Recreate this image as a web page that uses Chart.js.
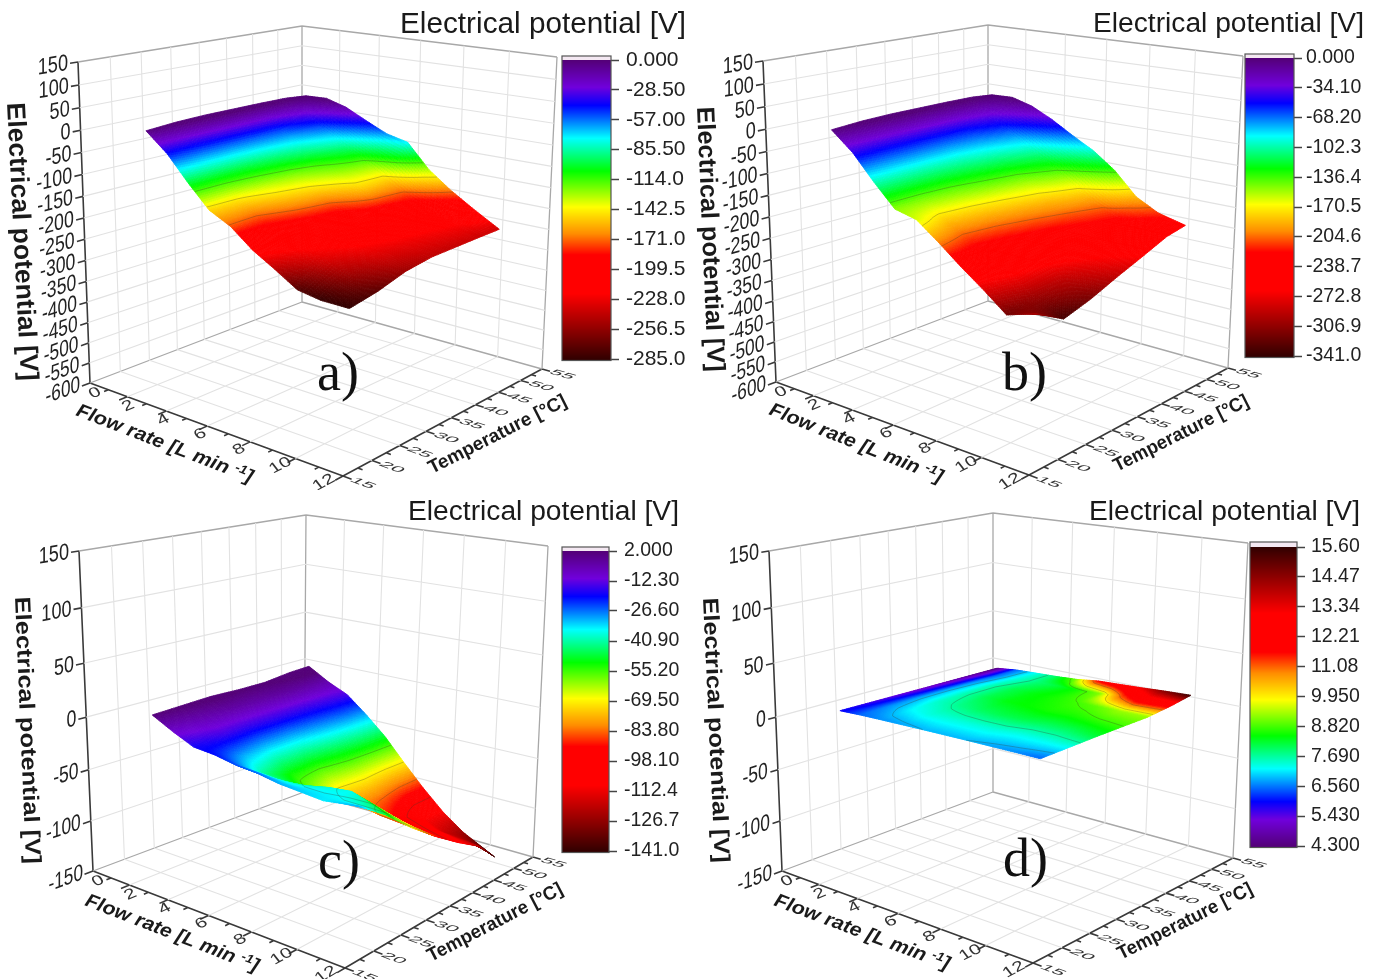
<!DOCTYPE html>
<html>
<head>
<meta charset="utf-8">
<title>Electrical potential surfaces</title>
<script src="https://cdn.jsdelivr.net/npm/chart.js@4"></script>
<style>
  html, body { margin: 0; background: #fff; }
  #page { position: relative; width: 1378px; height: 979px; overflow: hidden; }
  canvas { position: absolute; filter: blur(0.5px); }
</style>
</head>
<body>
<div id="page"></div>
<script>
// Surface grid: flow rates and temperatures
const flowRates = [1.75, 2.8, 3.8, 4.8, 5.8, 6.8, 7.8, 8.8, 9.8, 11];
const flowRatesC = [1.75, 2.8, 3.8, 4.8, 5.8, 6.8, 7.8, 8.8, 9.8, 11.3];
const temperatures = [20, 25, 30, 35, 40, 45, 49];

// Potential [V], one row per temperature, one column per flow rate
const potentialA = [
  [-1, -43, -98, -148, -173, -213, -243, -275, -284, -285],
  [4, -50, -100, -146, -176, -205, -222, -234, -250, -272],
  [6, -52, -98, -134, -160, -190, -208, -220, -234, -252],
  [6, -52, -90, -125, -150, -182, -200, -214, -228, -242],
  [6, -50, -80, -110, -130, -150, -190, -208, -224, -240],
  [5, -30, -60, -90, -120, -150, -180, -205, -220, -238],
  [0, 2, -12, -37, -60, -72, -128, -167, -200, -237]
];
const potentialB = [
  [-1, -43, -98, -148, -160, -198, -239, -277, -318, -298],
  [4, -50, -100, -148, -182, -212, -240, -262, -300, -335],
  [6, -52, -100, -142, -176, -206, -232, -256, -290, -315],
  [6, -55, -96, -130, -166, -196, -222, -246, -268, -289],
  [6, -52, -85, -120, -155, -185, -210, -232, -252, -265],
  [5, -36, -70, -100, -130, -165, -198, -220, -234, -240],
  [0, 2, -12, -37, -67, -95, -133, -186, -214, -230]
];
const potentialC = [
  [2, -9, -18, -20, -24, -26, -30, -32, -34, -30],
  [3, -6, -14, -30, -42, -44, -42, -38, -36, -48],
  [4, -4, -16, -36, -52, -60, -62, -60, -60, -70],
  [3, -4, -16, -36, -54, -70, -80, -84, -86, -89],
  [3, -3, -16, -32, -50, -68, -84, -96, -100, -106],
  [6, -4, -15, -30, -48, -70, -90, -110, -118, -121],
  [7, -5, -14, -30, -48, -70, -91, -110, -125, -141]
];
const potentialD = [
  [5.9, 6.5, 6.7, 6.8, 6.9, 6.9, 6.9, 6.8, 6.7, 6.5],
  [5.6, 6.7, 7.2, 7.4, 7.4, 7.4, 7.4, 7.3, 7.3, 7.3],
  [5.3, 6.8, 7.5, 7.8, 8.0, 8.1, 8.1, 8.0, 8.0, 8.2],
  [5.0, 6.8, 7.6, 8.1, 8.4, 8.5, 8.6, 8.6, 8.7, 8.8],
  [4.8, 6.7, 7.6, 8.1, 8.4, 8.6, 8.8, 9.0, 9.3, 9.3],
  [4.5, 6.5, 7.4, 7.9, 8.2, 8.6, 9.2, 11.3, 12.6, 12.2],
  [4.3, 6.5, 7.3, 8.0, 9.2, 11.8, 12.6, 13.4, 14.6, 15.6]
];

// Colour bar ticks, top to bottom
const barTicksA = ['0.000', '-28.50', '-57.00', '-85.50', '-114.0', '-142.5', '-171.0', '-199.5', '-228.0', '-256.5', '-285.0'];
const barTicksB = ['0.000', '-34.10', '-68.20', '-102.3', '-136.4', '-170.5', '-204.6', '-238.7', '-272.8', '-306.9', '-341.0'];
const barTicksC = ['2.000', '-12.30', '-26.60', '-40.90', '-55.20', '-69.50', '-83.80', '-98.10', '-112.4', '-126.7', '-141.0'];
const barTicksD = ['15.60', '14.47', '13.34', '12.21', '11.08', '9.950', '8.820', '7.690', '6.560', '5.430', '4.300'];

// Contour levels seen on each surface
const contoursA = [-114, -142.5, -171];
const contoursB = [-136.4, -170.5, -204.6];
const contoursC = [-55.2, -69.5, -83.8, -98.1];
const contoursD = [6.9, 7.69, 8.82, 9.95, 11.08];

// Axis ticks
const flowTicks = [0, 2, 4, 6, 8, 10, 12];
const tempTicks = [15, 20, 25, 30, 35, 40, 45, 50, 55];
const voltTicksWide = [150, 100, 50, 0, -50, -100, -150, -200, -250, -300, -350, -400, -450, -500, -550, -600];
const voltTicksNarrow = [150, 100, 50, 0, -50, -100, -150];

// Rainbow used by the colour bars (0 = purple end, 1 = dark end)
const rainbowStops = [
  [0, [84, 0, 120]], [0.09, [112, 0, 220]], [0.15, [0, 0, 255]], [0.26, [0, 255, 255]],
  [0.37, [0, 255, 0]], [0.49, [255, 255, 0]], [0.58, [255, 140, 0]], [0.65, [255, 0, 0]],
  [0.78, [255, 0, 0]], [1, [50, 0, 0]]
];

function rainbow(s) {
  s = Math.min(1, Math.max(0, s));
  for (let i = 1; i < rainbowStops.length; i++) {
    if (s <= rainbowStops[i][0]) {
      const [s0, c0] = rainbowStops[i - 1];
      const [s1, c1] = rainbowStops[i];
      const k = (s - s0) / (s1 - s0);
      return `rgb(${c0.map((c, j) => Math.round(c + (c1[j] - c) * k)).join(',')})`;
    }
  }
  return 'rgb(50,0,0)';
}

// Panel setup, box corners in page pixels (floor and top of each corner)
const panels = [
  {
    name: 'a)', left: 0, top: 0, width: 690, height: 490, flows: flowRates, values: potentialA, barTicks: barTicksA, contours: contoursA,
    volts: voltTicksWide, purpleLow: false,
    floor: [[90, 383], [343, 476], [542, 369], [302, 302]], roof: [[78, 62], [346, 106], [557, 57], [302, 26]],
    bar: { left: 562, right: 611, top: 60, bottom: 359, cap: 56 }, barFont: 21, barPad: 7,
    title: [400, 686, 33, 29], voltTitle: [7, 103, 21, 381, 26], letter: [317, 390],
    flowTitle: [75, 415, 250, 483], tempTitle: [432, 474, 568, 405]
  },
  {
    name: 'b)', left: 690, top: 0, width: 688, height: 490, flows: flowRates, values: potentialB, barTicks: barTicksB, contours: contoursB,
    volts: voltTicksWide, purpleLow: false,
    floor: [[776, 382], [1029, 475], [1228, 368], [988, 301]], roof: [[763, 61], [1032, 105], [1243, 56], [988, 25]],
    bar: { left: 1245, right: 1294, top: 58, bottom: 356, cap: 54 }, barFont: 19.5, barPad: 4,
    title: [1093, 1364, 32, 27], voltTitle: [697, 107, 708, 372, 25], letter: [1002, 390],
    flowTitle: [768, 414, 940, 483], tempTitle: [1117, 472, 1250, 405]
  },
  {
    name: 'c)', left: 0, top: 490, width: 690, height: 489, flows: flowRatesC, values: potentialC, barTicks: barTicksC, contours: contoursC,
    volts: voltTicksNarrow, purpleLow: false,
    floor: [[93, 871], [345, 968], [533, 857], [304, 792]], roof: [[79, 551], [349, 590], [548, 546], [306, 515]],
    bar: { left: 562, right: 609, top: 551, bottom: 851, cap: 547 }, barFont: 19.5, barPad: 7,
    title: [408, 679, 520, 27], voltTitle: [15, 597, 26, 864, 22], letter: [318, 878],
    flowTitle: [84, 905, 256, 972], tempTitle: [431, 962, 564, 893]
  },
  {
    name: 'd)', left: 690, top: 490, width: 688, height: 489, flows: flowRates, values: potentialD, barTicks: barTicksD, contours: contoursD,
    volts: voltTicksNarrow, purpleLow: true,
    floor: [[782, 871], [1033, 963], [1233, 858], [993, 792]], roof: [[769, 551], [1037, 590], [1248, 543], [993, 513]],
    bar: { left: 1250, right: 1297, top: 547, bottom: 846, cap: 542 }, barFont: 19.5, barPad: 6,
    title: [1089, 1360, 520, 27], voltTitle: [703, 598, 715, 863, 22], letter: [1003, 876],
    flowTitle: [773, 905, 947, 970], tempTitle: [1121, 960, 1254, 893]
  }
];

// Homography from the unit square onto the four given corners
function unitSquareMap(q) {
  const [[x0, y0], [x1, y1], [x2, y2], [x3, y3]] = q;
  const dx1 = x1 - x2, dx2 = x3 - x2, sx = x0 - x1 + x2 - x3;
  const dy1 = y1 - y2, dy2 = y3 - y2, sy = y0 - y1 + y2 - y3;
  const den = dx1 * dy2 - dx2 * dy1;
  const g = (sx * dy2 - dx2 * sy) / den;
  const h = (dx1 * sy - sx * dy1) / den;
  const a = x1 - x0 + g * x1, b = x3 - x0 + h * x3;
  const d = y1 - y0 + g * y1, e = y3 - y0 + h * y3;
  return (u, v) => {
    const w = g * u + h * v + 1;
    return [(a * u + b * v + x0) / w, (d * u + e * v + y0) / w];
  };
}

// (flow, temperature, potential) to a point of the picture plane
function makeProjection(p) {
  const floorMap = unitSquareMap(p.floor);
  const roofMap = unitSquareMap(p.roof);
  const vMin = p.volts[p.volts.length - 1], vMax = p.volts[0];
  return (flow, temp, volt) => {
    const u = flow / 12, v = (temp - 15) / 40, w0 = (volt - vMin) / (vMax - vMin);
    const w = w0 / (1 + 0.08 * (1 - w0)); // slight perspective along the height
    const lo = floorMap(u, v), hi = roofMap(u, v);
    return { x: lo[0] + (hi[0] - lo[0]) * w, y: lo[1] + (hi[1] - lo[1]) * w };
  };
}

const GAP = { x: null, y: null };

function lineSet(points, color, width) {
  return { data: points, showLine: true, borderColor: color, borderWidth: width, pointRadius: 0, spanGaps: false, clip: false };
}

// Draw text along the segment (x1,y1)-(x2,y2), squeezed to its exact length.
// parts: [text, relative size, raise] so superscripts can share one baseline.
function textAlong(ctx, parts, x1, y1, x2, y2, size, style) {
  ctx.save();
  const fontOf = rel => `${style} ${size * rel}px "Liberation Sans"`;
  let natural = 0;
  parts.forEach(([text, rel]) => { ctx.font = fontOf(rel); natural += ctx.measureText(text).width; });
  ctx.translate(x1, y1);
  ctx.rotate(Math.atan2(y2 - y1, x2 - x1));
  ctx.scale(Math.hypot(x2 - x1, y2 - y1) / natural, 1);
  ctx.textAlign = 'left';
  ctx.textBaseline = 'alphabetic';
  ctx.fillStyle = '#1a1a1a';
  let at = 0;
  parts.forEach(([text, rel, raise]) => {
    ctx.font = fontOf(rel);
    ctx.fillText(text, at, -raise);
    at += ctx.measureText(text).width;
  });
  ctx.restore();
}

// Text lying on the floor: baseline along one direction, letters shortened along the other
function floorText(ctx, text, at, along, down, fontSize) {
  ctx.save();
  ctx.font = fontSize + 'px "Liberation Sans"';
  ctx.transform(along.x, along.y, down.x, down.y, at.x, at.y);
  ctx.textAlign = 'center';
  ctx.textBaseline = 'middle';
  ctx.fillStyle = '#333';
  ctx.fillText(text, 0, 0);
  ctx.restore();
}

function unit(a, b, k) {
  const l = Math.hypot(b.x - a.x, b.y - a.y);
  return { x: (b.x - a.x) / l * k, y: (b.y - a.y) / l * k };
}

const surfacePlugin = {
  id: 'surface',
  afterDatasetsDraw(chart, args, opts) {
    const { panel, surfaceIndex } = opts;
    const ctx = chart.ctx;
    const cols = panel.flows.length, rows = temperatures.length;
    const pts = chart.getDatasetMeta(surfaceIndex).data;
    const bar = panel.barTicks.map(Number);
    const top = bar[0], bottom = bar[bar.length - 1];
    const sOf = v => panel.purpleLow ? (v - bottom) / (top - bottom) : (top - v) / (top - bottom);
    const N = 14;

    // fine sampling of the cell for smooth shading
    const sample = (r, c, i, j) => {
      const c1 = Math.min(c + 1, cols - 1), r1 = Math.min(r + 1, rows - 1);
      const a = i / N, b = j / N;
      const mix = f => (f(r, c) * (1 - a) + f(r, c1) * a) * (1 - b) + (f(r1, c) * (1 - a) + f(r1, c1) * a) * b;
      return {
        x: mix((m, n) => pts[m * cols + n].x),
        y: mix((m, n) => pts[m * cols + n].y),
        v: mix((m, n) => panel.values[m][n])
      };
    };

    ctx.save();
    ctx.lineWidth = 0.8;
    // paint from the far temperature to the near one
    for (let r = rows - 2; r >= 0; r--) {
      for (let c = 0; c < cols - 1; c++) {
        for (let j = N - 1; j >= 0; j--) {
          for (let i = 0; i < N; i++) {
            const a = sample(r, c, i, j), b = sample(r, c, i + 1, j);
            const d = sample(r, c, i + 1, j + 1), e = sample(r, c, i, j + 1);
            const col = rainbow(sOf((a.v + b.v + d.v + e.v) / 4));
            ctx.fillStyle = col;
            ctx.strokeStyle = col;
            ctx.beginPath();
            ctx.moveTo(a.x, a.y);
            ctx.lineTo(b.x, b.y);
            ctx.lineTo(d.x, d.y);
            ctx.lineTo(e.x, e.y);
            ctx.closePath();
            ctx.fill();
            ctx.stroke();
          }
        }
      }
    }

    // contour lines, marching squares on the fine samples
    ctx.strokeStyle = 'rgba(60,60,40,0.3)';
    ctx.lineWidth = 1;
    ctx.beginPath();
    const cross = (p, q, level) => {
      if ((p.v < level) === (q.v < level)) return null;
      const k = (level - p.v) / (q.v - p.v);
      return [p.x + (q.x - p.x) * k, p.y + (q.y - p.y) * k];
    };
    for (const level of panel.contours) {
      for (let r = 0; r < rows - 1; r++) {
        for (let c = 0; c < cols - 1; c++) {
          for (let j = 0; j < N; j += 2) {
            for (let i = 0; i < N; i += 2) {
              const a = sample(r, c, i, j), b = sample(r, c, i + 2, j);
              const d = sample(r, c, i + 2, j + 2), e = sample(r, c, i, j + 2);
              const hits = [cross(a, b, level), cross(b, d, level), cross(d, e, level), cross(e, a, level)].filter(Boolean);
              if (hits.length >= 2) {
                ctx.moveTo(hits[0][0], hits[0][1]);
                ctx.lineTo(hits[1][0], hits[1][1]);
              }
            }
          }
        }
      }
    }
    ctx.stroke();
    ctx.restore();
  }
};

const decorPlugin = {
  id: 'decor',
  // colour bar body goes under the axis ticks
  beforeDatasetsDraw(chart, args, opts) {
    const { panel } = opts;
    const ctx = chart.ctx;
    const sx = chart.scales.x, sy = chart.scales.y, cb = chart.scales.cb;
    const bar = panel.bar;
    const l = sx.getPixelForValue(bar.left), r = sx.getPixelForValue(bar.right);
    const capY = sy.getPixelForValue(bar.cap), y0 = cb.getPixelForValue(cb.max), y1 = cb.getPixelForValue(cb.min);
    ctx.save();
    ctx.fillStyle = '#f4e8f2';
    ctx.fillRect(l, capY, r - l, y0 - capY);
    for (let y = Math.floor(y0); y < y1 + 1; y++) {
      const s = (y - y0) / (y1 - y0);
      ctx.fillStyle = rainbow(panel.purpleLow ? 1 - s : s);
      ctx.fillRect(l, y, r - l, 1.2);
    }
    ctx.strokeStyle = '#555';
    ctx.lineWidth = 1.2;
    ctx.strokeRect(l, capY, r - l, y1 + 1.5 - capY);
    ctx.restore();
  },
  afterDraw(chart, args, opts) {
    const { panel, project } = opts;
    const ctx = chart.ctx;
    const px = pt => ({ x: chart.scales.x.getPixelForValue(pt.x), y: chart.scales.y.getPixelForValue(pt.y) });
    const vMin = panel.volts[panel.volts.length - 1];
    const tx = v => chart.scales.x.getPixelForValue(v), ty = v => chart.scales.y.getPixelForValue(v);

    // panel title and letter
    const [tx0, tx1, tBase, tSize] = panel.title;
    textAlong(ctx, [['Electrical potential [V]', 1, 0]], tx(tx0), ty(tBase), tx(tx1), ty(tBase), tSize, '');
    ctx.save();
    ctx.font = '54px "Liberation Serif"';
    ctx.fillStyle = '#111';
    ctx.fillText(panel.name, tx(panel.letter[0]), ty(panel.letter[1]));
    ctx.restore();

    // potential axis: labels and title
    panel.volts.forEach(v => {
      const a = px(project(0, 15, v)), b = px(project(0, 20, v));
      const along = unit(a, b, 0.8);
      ctx.save();
      ctx.font = '23px "Liberation Sans"';
      ctx.transform(along.x, along.y, 0, 1, a.x - 10, a.y + 1.5);
      ctx.textAlign = 'right';
      ctx.textBaseline = 'middle';
      ctx.fillStyle = '#222';
      ctx.fillText(String(v), 0, 0);
      ctx.restore();
    });
    const [vx0, vy0, vx1, vy1, vSize] = panel.voltTitle;
    textAlong(ctx, [['Electrical potential [V]', 1, 0]], tx(vx0), ty(vy0), tx(vx1), ty(vy1), vSize, 'bold');

    // tick labels lying on the floor
    flowTicks.forEach(f => {
      const a = px(project(f, 15, vMin));
      const along = unit(a, px(project(f, 20, vMin)), 1);
      const flowDir = unit(a, px(project(f + 1, 15, vMin)), 0.2);
      const down = { x: -along.y * 0.6 + flowDir.x, y: along.x * 0.6 + flowDir.y };
      floorText(ctx, String(f), { x: a.x + 5 - 2 * f, y: a.y + 10 - 0.3 * f }, along, down, 20);
    });
    tempTicks.forEach(t => {
      const a = px(project(12, t, vMin));
      const along = unit(a, px(project(13, t, vMin)), 1);
      const down = unit(a, px(project(12, t - 5, vMin)), 0.58);
      floorText(ctx, String(t), { x: a.x + along.x * 21, y: a.y + along.y * 21 }, along, down, 21);
    });

    // axis titles on the floor
    const [fx0, fy0, fx1, fy1] = panel.flowTitle;
    textAlong(ctx, [['Flow rate [L min ', 1, 0], ['-1', 0.65, 6], [']', 1, 0]], tx(fx0), ty(fy0), tx(fx1), ty(fy1), 19, 'italic bold');
    const [ex0, ey0, ex1, ey1] = panel.tempTitle;
    textAlong(ctx, [['Temperature [°C]', 1, 0]], tx(ex0), ty(ey0), tx(ex1), ty(ey1), 19, 'bold');
  }
};

function boxDatasets(p, project) {
  const vMin = p.volts[p.volts.length - 1], vMax = p.volts[0];
  const grid = [], edges = [], axes = [];
  const seg = (list, a, b) => list.push(a, b, GAP);

  // wall and floor grid
  for (let f = 2; f < 12; f += 2) {
    seg(grid, project(f, 55, vMin), project(f, 55, vMax));
    seg(grid, project(f, 15, vMin), project(f, 55, vMin));
  }
  for (let t = 20; t < 55; t += 5) {
    seg(grid, project(0, t, vMin), project(0, t, vMax));
    seg(grid, project(0, t, vMin), project(12, t, vMin));
  }
  p.volts.slice(1, -1).forEach(v => {
    seg(grid, project(0, 15, v), project(0, 55, v));
    seg(grid, project(0, 55, v), project(12, 55, v));
  });

  // box edges
  seg(edges, project(0, 15, vMax), project(0, 55, vMax));
  seg(edges, project(0, 55, vMax), project(12, 55, vMax));
  seg(edges, project(0, 55, vMin), project(0, 55, vMax));
  seg(edges, project(12, 55, vMin), project(12, 55, vMax));
  seg(edges, project(0, 15, vMin), project(0, 55, vMin));
  seg(edges, project(0, 55, vMin), project(12, 55, vMin));

  // dark axes with their ticks
  seg(axes, project(0, 15, vMin), project(0, 15, vMax));
  seg(axes, project(0, 15, vMin), project(12, 15, vMin));
  seg(axes, project(12, 15, vMin), project(12, 55, vMin));
  p.volts.forEach(v => seg(axes, project(0, 15, v), project(0, 13.8, v)));
  for (let f = 0; f <= 12; f++) seg(axes, project(f, 15, vMin), project(f, f % 2 ? 14.3 : 13.7, vMin));
  for (let t = 15; t <= 55; t += 2.5) seg(axes, project(12, t, vMin), project(t % 5 ? 12.2 : 12.35, t, vMin));

  return [lineSet(grid, '#e2e2e2', 1.1), lineSet(edges, '#a8a8a8', 1.3), lineSet(axes, '#3a3a3a', 1.6)];
}

panels.forEach(p => {
  const project = makeProjection(p);
  const canvas = document.createElement('canvas');
  canvas.width = p.width;
  canvas.height = p.height;
  canvas.style.left = p.left + 'px';
  canvas.style.top = p.top + 'px';
  document.getElementById('page').appendChild(canvas);

  const surface = [];
  temperatures.forEach((t, r) => p.flows.forEach((f, c) => surface.push(project(f, t, p.values[r][c]))));
  const datasets = boxDatasets(p, project);
  datasets.push({ data: surface, showLine: false, pointRadius: 0, clip: false });

  const barValues = p.barTicks.map(Number);
  const labelFor = new Map(p.barTicks.map(s => [Number(s), s]));

  new Chart(canvas, {
    type: 'scatter',
    data: { datasets },
    plugins: [decorPlugin, surfacePlugin],
    options: {
      responsive: false,
      animation: false,
      events: [],
      layout: { padding: { top: p.bar.top - p.top, bottom: p.top + p.height - p.bar.bottom, left: 0, right: 0 } },
      plugins: {
        legend: { display: false },
        tooltip: { enabled: false },
        decor: { panel: p, project },
        surface: { panel: p, surfaceIndex: datasets.length - 1 }
      },
      scales: {
        x: { type: 'linear', display: false, min: p.left, max: p.bar.right },
        y: { type: 'linear', display: false, min: p.bar.top, max: p.bar.bottom, reverse: true },
        cb: {
          type: 'linear',
          position: 'right',
          min: Math.min(...barValues),
          max: Math.max(...barValues),
          afterBuildTicks: axis => { axis.ticks = barValues.slice().sort((a, b) => a - b).map(value => ({ value })); },
          afterFit: axis => { axis.width = p.left + p.width - p.bar.right; },
          border: { display: false },
          grid: { drawOnChartArea: false, drawTicks: true, tickLength: 8, tickWidth: 1.5, tickColor: '#444' },
          ticks: {
            autoSkip: false,
            padding: p.barPad,
            color: '#222',
            font: { family: '"Liberation Sans"', size: p.barFont },
            callback: value => labelFor.get(value)
          }
        }
      }
    }
  });
});
</script>
</body>
</html>
